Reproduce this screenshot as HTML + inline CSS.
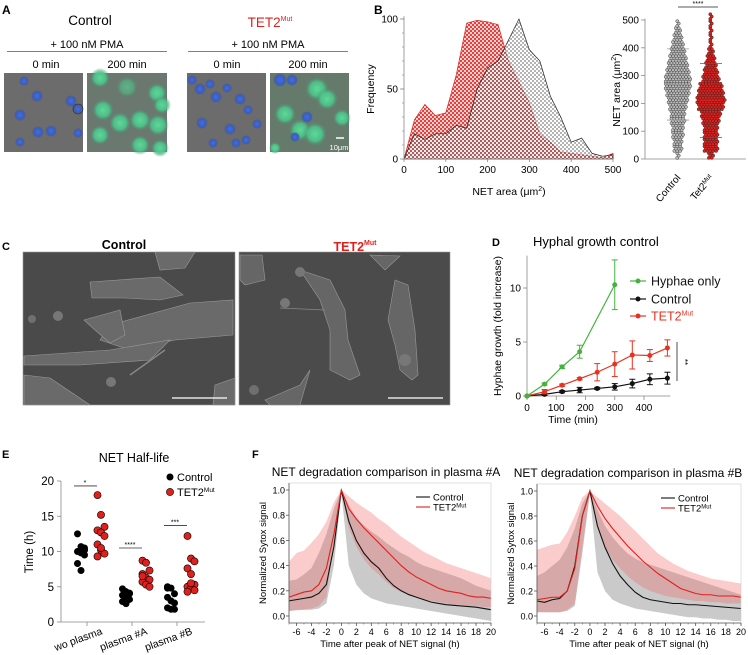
<!DOCTYPE html>
<html><head><meta charset="utf-8"><style>
body{margin:0;background:#fff}
svg{display:block;font-family:"Liberation Sans",Arial,sans-serif}
</style></head><body>
<svg id="fig" width="748" height="655" viewBox="0 0 748 655" xmlns="http://www.w3.org/2000/svg">
<defs>
<pattern id="chkGray" width="4" height="4" patternUnits="userSpaceOnUse"><rect width="4" height="4" fill="#fff"/><rect width="2" height="2" fill="#777"/><rect x="2" y="2" width="2" height="2" fill="#777"/></pattern>
<pattern id="chkRed" width="4" height="4" patternUnits="userSpaceOnUse"><rect width="4" height="4" fill="#f6c8c8"/><rect width="2" height="2" fill="#e0201c"/><rect x="2" y="2" width="2" height="2" fill="#e0201c"/></pattern>
<radialGradient id="gBlue"><stop offset="0" stop-color="#3f6fe0"/><stop offset="0.7" stop-color="#3a5cc0"/><stop offset="1" stop-color="#555" stop-opacity="0"/></radialGradient>
<radialGradient id="gGreen"><stop offset="0" stop-color="#5fd89a"/><stop offset="0.6" stop-color="#4cc48a" stop-opacity="0.9"/><stop offset="1" stop-color="#4a8f70" stop-opacity="0"/></radialGradient>
</defs>

<!-- Panel A -->
<g>
<text x="2" y="14" font-size="12" font-weight="bold">A</text>
<text x="90" y="25" font-size="13.5" text-anchor="middle">Control</text>
<text x="270" y="27" font-size="13.5" text-anchor="middle" fill="#e0201c">TET2<tspan font-size="7" dy="-6">Mut</tspan></text>
<text x="87" y="48" font-size="11" text-anchor="middle">+ 100 nM PMA</text>
<text x="268" y="48" font-size="11" text-anchor="middle">+ 100 nM PMA</text>
<line x1="7" y1="51.5" x2="167" y2="51.5" stroke="#555" stroke-width="0.8"/>
<line x1="188" y1="51.5" x2="348" y2="51.5" stroke="#555" stroke-width="0.8"/>
<text x="46" y="68" font-size="11" text-anchor="middle">0 min</text>
<text x="127" y="68" font-size="11" text-anchor="middle">200 min</text>
<text x="227" y="68" font-size="11" text-anchor="middle">0 min</text>
<text x="308" y="68" font-size="11" text-anchor="middle">200 min</text>
<g>
<rect x="4" y="73" width="79" height="79" fill="#6c6c6c"/>
<circle cx="24" cy="81" r="5" fill="url(#gBlue)"/><circle cx="37" cy="96" r="6" fill="url(#gBlue)"/><circle cx="20" cy="115" r="6" fill="url(#gBlue)"/><circle cx="71" cy="101" r="6" fill="url(#gBlue)"/><circle cx="78" cy="109" r="5" fill="url(#gBlue)" stroke="#222" stroke-width="0.6"/><circle cx="38" cy="132" r="6" fill="url(#gBlue)"/><circle cx="51" cy="131" r="6" fill="url(#gBlue)"/><circle cx="20" cy="142" r="5" fill="url(#gBlue)"/><circle cx="78" cy="133" r="5" fill="url(#gBlue)"/>
</g>
<g>
<rect x="87" y="73" width="80" height="79" fill="#6a786f"/>
<circle cx="100" cy="78" r="10" fill="url(#gGreen)"/><circle cx="127" cy="87" r="11" fill="url(#gGreen)" opacity="0.6"/><circle cx="157" cy="93" r="10" fill="url(#gGreen)"/><circle cx="162" cy="105" r="9" fill="url(#gGreen)"/><circle cx="103" cy="110" r="11" fill="url(#gGreen)"/><circle cx="120" cy="123" r="11" fill="url(#gGreen)"/><circle cx="140" cy="120" r="11" fill="url(#gGreen)"/><circle cx="158" cy="125" r="11" fill="url(#gGreen)"/><circle cx="100" cy="135" r="10" fill="url(#gGreen)"/><circle cx="140" cy="145" r="10" fill="url(#gGreen)"/><circle cx="160" cy="148" r="9" fill="url(#gGreen)"/>
</g>
<g>
<rect x="187" y="73" width="79" height="79" fill="#6c6c6c"/>
<circle cx="192" cy="80" r="5" fill="url(#gBlue)"/><circle cx="200" cy="89" r="6" fill="url(#gBlue)"/><circle cx="210" cy="84" r="5" fill="url(#gBlue)"/><circle cx="227" cy="88" r="5" fill="url(#gBlue)"/><circle cx="240" cy="99" r="6" fill="url(#gBlue)"/><circle cx="216" cy="97" r="6" fill="url(#gBlue)"/><circle cx="248" cy="110" r="5" fill="url(#gBlue)"/><circle cx="202" cy="123" r="6" fill="url(#gBlue)"/><circle cx="230" cy="129" r="6" fill="url(#gBlue)"/><circle cx="257" cy="124" r="5" fill="url(#gBlue)"/><circle cx="213" cy="143" r="5" fill="url(#gBlue)"/><circle cx="236" cy="143" r="5" fill="url(#gBlue)"/><circle cx="246" cy="140" r="5" fill="url(#gBlue)"/>
</g>
<g>
<rect x="270" y="73" width="79" height="79" fill="#667a6c"/>
<circle cx="280" cy="80" r="7" fill="url(#gBlue)"/><circle cx="292" cy="80" r="6" fill="url(#gBlue)"/><circle cx="317" cy="89" r="12" fill="url(#gGreen)"/><circle cx="327" cy="99" r="11" fill="url(#gGreen)"/><circle cx="285" cy="114" r="11" fill="url(#gGreen)"/><circle cx="300" cy="130" r="11" fill="url(#gGreen)"/><circle cx="315" cy="134" r="12" fill="url(#gGreen)"/><circle cx="342" cy="118" r="9" fill="url(#gGreen)"/><circle cx="307" cy="117" r="6" fill="url(#gBlue)"/><circle cx="295" cy="137" r="5" fill="url(#gBlue)"/><circle cx="275" cy="148" r="6" fill="url(#gGreen)"/>
<line x1="336" y1="138" x2="344" y2="138" stroke="#fff" stroke-width="1.5"/>
<text x="339" y="150" font-size="7.5" fill="#fff" text-anchor="middle">10μm</text>
</g>
</g>

<!-- Panel B -->
<g id="panelB">
<text x="374" y="14" font-size="12" font-weight="bold">B</text>
</g>

<!-- Panel C -->
<g>
<text x="2" y="250" font-size="11" font-weight="bold">C</text>
<text x="124" y="249" font-size="12.5" font-weight="bold" text-anchor="middle">Control</text>
<text x="355" y="251" font-size="12.5" font-weight="bold" text-anchor="middle" fill="#e0201c">TET2<tspan font-size="7" dy="-6">Mut</tspan></text>
<g>
<rect x="23" y="252" width="212" height="153" fill="#4a4a4a" stroke="#999" stroke-width="0.6"/>
<g fill="#6a6a6a" stroke="#9a9a9a" stroke-width="0.6">
<path d="M90 282 L160 277 L183 295 L160 300 L125 298 L92 298 Z"/>
<path d="M110 325 L190 303 L233 300 L233 335 L175 340 L130 350 L100 340 Z"/>
<path d="M24 356 L110 350 L170 340 L150 360 L80 365 L24 365 Z"/>
<path d="M24 375 L50 378 L90 405 L24 405 Z"/>
<path d="M84 320 L120 310 L125 335 L110 343 L95 330 Z"/>
<path d="M155 252 L195 252 L185 268 L160 270 Z"/>
<path d="M215 385 L235 378 L235 405 L213 405 Z"/>
</g>
<circle cx="58" cy="316" r="5" fill="#777"/><circle cx="32" cy="319" r="4" fill="#6f6f6f"/><circle cx="111" cy="382" r="5" fill="#777"/>
<line x1="130" y1="375" x2="165" y2="350" stroke="#888" stroke-width="1.5"/>
<line x1="172" y1="398" x2="227" y2="398" stroke="#fff" stroke-width="1.2"/>
</g>
<g>
<rect x="239" y="252" width="211" height="153" fill="#4b4b4b" stroke="#999" stroke-width="0.6"/>
<g fill="#666" stroke="#999" stroke-width="0.6">
<path d="M240 255 L262 255 L265 280 L245 285 L240 280 Z"/>
<path d="M300 270 L330 280 L345 310 L348 340 L360 375 L350 380 L330 370 L330 330 L320 300 Z"/>
<path d="M395 280 L408 285 L415 330 L418 375 L412 380 L400 370 L395 345 L388 320 Z"/>
<path d="M265 400 L300 385 L310 370 L300 405 L270 405 Z"/>
<path d="M370 255 L400 256 L385 270 Z"/>
</g>
<circle cx="285" cy="303" r="5" fill="#777"/><circle cx="254" cy="390" r="5" fill="#6f6f6f"/><circle cx="300" cy="272" r="5" fill="#777"/><circle cx="405" cy="360" r="6" fill="#777"/>
<line x1="280" y1="308" x2="325" y2="310" stroke="#888" stroke-width="0.8"/>
<line x1="388" y1="398" x2="443" y2="398" stroke="#fff" stroke-width="1.2"/>
</g>
</g>

<g id="panelD">
<text x="492" y="246" font-size="11" font-weight="bold">D</text>
<text x="533" y="246" font-size="13">Hyphal growth control</text>
</g>
<g id="panelE">
<text x="2" y="458" font-size="11" font-weight="bold">E</text>
<text x="134" y="462" font-size="12.5" text-anchor="middle">NET Half-life</text>
</g>
<g id="panelF">
<text x="252" y="458" font-size="11" font-weight="bold">F</text>
</g>
</svg>
<script>
const NS="http://www.w3.org/2000/svg";
function mk(parent,tag,attrs,text){const e=document.createElementNS(NS,tag);for(const k in attrs)e.setAttribute(k,attrs[k]);if(text!==undefined)e.textContent=text;parent.appendChild(e);return e;}
const gB=document.getElementById('panelB'),gD=document.getElementById('panelD'),gE=document.getElementById('panelE'),gF=document.getElementById('panelF');

// ---- Panel B data ----
const histBins=[0,25,50,75,100,125,150,175,200,225,250,275,300,325,350,375,400,425,450,475,500];
const histControl=[0,18,14,18,18,24,22,50,65,70,85,100,78,70,45,30,12,15,4,2,3];
const histTet2=[0,28,39,31,33,60,97,99,98,96,70,55,40,18,12,5,4,3,2,1,4];
const histXTicks=[0,100,200,300,400,500];
const histYTicks=[0,50,100];
const swarmBins=[0,25,50,75,100,125,150,175,200,225,250,275,300,325,350,375,400,425,450,475,500];
const swarmControl=[1,3,3,4,4,5,5,6,7,8,9,9,8,7,6,5,4,3,2,1,0];
const swarmTet2=[2,5,5,5,5,6,7,9,10,9,8,6,5,4,3,2,1,1,1,1,1];
const swarmYTicks=[0,100,200,300,400,500];
const swarmMeanCtrl=268, swarmSdCtrl=128, swarmMeanTet=210, swarmSdTet=133;

const hx=v=>404+v*209/500, hy=f=>159-f*1.4;
function areaPath(xs,ys,fx,fy){let d='M'+fx(xs[0])+' '+fy(0);xs.forEach((x,i)=>d+=' L'+fx(x)+' '+fy(ys[i]));return d+' L'+fx(xs[xs.length-1])+' '+fy(0)+' Z';}
let p=mk(gB,'path',{d:areaPath(histBins,histTet2,hx,hy),fill:'url(#chkRed)','fill-opacity':0.85,stroke:'#e0201c','stroke-width':0.7});


p=mk(gB,'path',{d:areaPath(histBins,histControl,hx,hy),fill:'url(#chkGray)','fill-opacity':0.55,stroke:'#222','stroke-width':0.7});


mk(gB,'line',{x1:404,y1:hy(0),x2:404,y2:hy(102),stroke:'#888','stroke-width':0.8});
mk(gB,'line',{x1:404,y1:hy(0),x2:hx(500),y2:hy(0),stroke:'#888','stroke-width':0.8});
for(let f=0;f<=100;f+=10)mk(gB,'line',{x1:402,y1:hy(f),x2:404,y2:hy(f),stroke:'#888','stroke-width':0.6});
histYTicks.forEach(t=>{mk(gB,'line',{x1:400,y1:hy(t),x2:404,y2:hy(t),stroke:'#888','stroke-width':0.8});mk(gB,'text',{x:398,y:hy(t)+3.5,'font-size':10,'text-anchor':'end'},t);});
histXTicks.forEach(t=>{mk(gB,'line',{x1:hx(t),y1:159,x2:hx(t),y2:162,stroke:'#888','stroke-width':0.8});mk(gB,'text',{x:hx(t),y:173,'font-size':10,'text-anchor':'middle'},t);});
let t=mk(gB,'text',{x:374,y:89,'font-size':10.5,'text-anchor':'middle',transform:'rotate(-90 374 89)'},'Frequency');


t=mk(gB,'text',{x:509,y:195,'font-size':10.5,'text-anchor':'middle'});t.innerHTML='NET area (μm<tspan font-size="7" dy="-4">2</tspan><tspan dy="4">)</tspan>';



const sy=v=>159-v*0.278;
mk(gB,'line',{x1:645,y1:sy(0),x2:645,y2:sy(505),stroke:'#888','stroke-width':0.8});
mk(gB,'line',{x1:645,y1:sy(0),x2:746,y2:sy(0),stroke:'#888','stroke-width':0.8});
swarmYTicks.forEach(v=>{mk(gB,'line',{x1:641,y1:sy(v),x2:645,y2:sy(v),stroke:'#888','stroke-width':0.8});mk(gB,'text',{x:639,y:sy(v)+3.5,'font-size':10,'text-anchor':'end'},v);});
t=mk(gB,'text',{x:620,y:90,'font-size':10.5,'text-anchor':'middle',transform:'rotate(-90 620 90)'});t.innerHTML='NET area (μm<tspan font-size="7" dy="-4">2</tspan><tspan dy="4">)</tspan>';


function swarm(cx,counts,fill,stroke,name){const g=mk(gB,'g',{});


swarmBins.forEach((b,i)=>{const n=counts[i];for(let r=0;r<3;r++){const v=b+r*8.3+4;for(let k=0;k<n;k++){const off=(k-(n-1)/2)*2.9+(r%2?0.7:-0.7);mk(g,'circle',{cx:cx+off,cy:sy(v),r:1.6,fill:fill,stroke:stroke,'stroke-width':0.4});}}});}
swarm(678,swarmControl,'#bbb','#222','swarm-control');
swarm(711,swarmTet2,'#e0201c','#222','swarm-tet2');
[[678,swarmMeanCtrl,swarmSdCtrl],[711,swarmMeanTet,swarmSdTet]].forEach(([cx,m,s],i)=>{const c=i?'#e0201c':'#999';[m-s,m,m+s].forEach(v=>mk(gB,'line',{x1:cx-11,y1:sy(v),x2:cx+11,y2:sy(v),stroke:c,'stroke-width':0.8}));});
mk(gB,'line',{x1:678,y1:7,x2:718,y2:7,stroke:'#222','stroke-width':0.8});
mk(gB,'text',{x:698,y:6,'font-size':7,'text-anchor':'middle'},'****');
t=mk(gB,'text',{x:681,y:178,'font-size':10,'text-anchor':'end',transform:'rotate(-50 681 178)'},'Control');


t=mk(gB,'text',{x:714,y:178,'font-size':10,'text-anchor':'end',transform:'rotate(-50 714 178)'});t.innerHTML='Tet2<tspan font-size="6.5" dy="-3">Mut</tspan>';



// ---- Panel D data ----
const dTimesHyphae=[0,60,120,180,300];
const dHyphae=[0,1.1,2.7,4.1,10.3];
const dHyphaeErr=[0,0.1,0.15,0.6,2.3];
const dTimes=[0,60,120,180,240,300,360,420,480];
const dControl=[0,0.15,0.4,0.55,0.7,0.85,1.15,1.55,1.65];
const dControlErr=[0,0.1,0.1,0.25,0.1,0.3,0.4,0.5,0.55];
const dTet2=[0,0.4,1.0,1.6,2.2,2.95,3.8,3.75,4.45];
const dTet2Err=[0,0.2,0.1,0.1,0.8,1.15,1.3,0.55,0.75];
const dXTicks=[0,100,200,300,400];
const dYTicks=[0,5,10];
const dx=v=>527+v*0.2925, dy=v=>396-v*10.8;
mk(gD,'line',{x1:527,y1:dy(0),x2:527,y2:dy(13),stroke:'#888','stroke-width':0.8});
mk(gD,'line',{x1:527,y1:dy(0),x2:dx(490),y2:dy(0),stroke:'#888','stroke-width':0.8});
dYTicks.forEach(v=>{mk(gD,'line',{x1:523,y1:dy(v),x2:527,y2:dy(v),stroke:'#888','stroke-width':0.8});mk(gD,'text',{x:521,y:dy(v)+3.5,'font-size':10,'text-anchor':'end'},v);});
dXTicks.forEach(v=>{mk(gD,'line',{x1:dx(v),y1:396,x2:dx(v),y2:400,stroke:'#888','stroke-width':0.8});mk(gD,'text',{x:dx(v),y:411,'font-size':10,'text-anchor':'middle'},v);});
mk(gD,'text',{x:573,y:423,'font-size':10.5,'text-anchor':'middle'},'Time (min)');
mk(gD,'text',{x:501,y:326,'font-size':10.5,'text-anchor':'middle',transform:'rotate(-90 501 326)'},'Hyphae growth (fold increase)');
function series(g,xs,ys,es,fx,fy,col,name){const sg=mk(g,'g',{});


mk(sg,'polyline',{points:xs.map((x,i)=>fx(x)+','+fy(ys[i])).join(' '),fill:'none',stroke:col,'stroke-width':1.2});
xs.forEach((x,i)=>{if(es[i]>0.05){mk(sg,'line',{x1:fx(x),y1:fy(ys[i]-es[i]),x2:fx(x),y2:fy(ys[i]+es[i]),stroke:col,'stroke-width':1});[ys[i]-es[i],ys[i]+es[i]].forEach(v=>mk(sg,'line',{x1:fx(x)-3,y1:fy(v),x2:fx(x)+3,y2:fy(v),stroke:col,'stroke-width':1}));}
mk(sg,'circle',{cx:fx(x),cy:fy(ys[i]),r:2.5,fill:col});});}
series(gD,dTimes,dControl,dControlErr,dx,dy,'#111','series-control');
series(gD,dTimes,dTet2,dTet2Err,dx,dy,'#e8321f','series-tet2');
series(gD,dTimesHyphae,dHyphae,dHyphaeErr,dx,dy,'#44b33d','series-hyphae-only');
[['Hyphae only','#44b33d',281],['Control','#111',299],['TET2','#e8321f',316]].forEach(([lab,col,y])=>{const lg=mk(gD,'g',{});


mk(lg,'line',{x1:630,y1:y,x2:646,y2:y,stroke:col,'stroke-width':1.2});mk(lg,'circle',{cx:638,cy:y,r:2.5,fill:col});
const tt=mk(lg,'text',{x:651,y:y+4.5,'font-size':12.5,fill:col==='#e8321f'?'#e8321f':'#111'});tt.innerHTML=lab==='TET2'?'TET2<tspan font-size="7" dy="-5">Mut</tspan>':lab;});
mk(gD,'line',{x1:677,y1:342,x2:677,y2:381,stroke:'#222','stroke-width':0.8});
mk(gD,'text',{x:682,y:362,'font-size':8,'text-anchor':'middle',transform:'rotate(90 682 362)'},'**');

// ---- Panel E data ----
const eGroups=['wo plasma','plasma #A','plasma #B'];
const eControl=[[12.5,10.7,10.5,10.0,9.8,9.5,8.3,7.3,10.2],[4.7,4.3,4.0,3.8,3.5,3.2,2.9,2.6,4.1],[5.0,4.8,4.0,3.5,3.0,2.7,2.0,1.8,1.8,4.8]];
const eTet2=[[18,15.2,13.5,13,12.7,12.2,11,10.2,9.7,9.3,10.5],[8.7,8.4,7.3,6.8,6.3,6.0,5.7,5.3,5.0,6.5],[12.2,9.0,8.6,7.6,6.8,5.3,5.0,4.8,4.5,4.3,5.5]];
const eSig=['*','****','***'];
const eSigY=[19.3,10.5,13.7];
const eYTicks=[0,5,10,15,20];
const ey=v=>622-v*7.05, ex=i=>87+i*45;
mk(gE,'line',{x1:61,y1:ey(0),x2:61,y2:ey(20),stroke:'#888','stroke-width':0.8});
mk(gE,'line',{x1:61,y1:ey(0),x2:205,y2:ey(0),stroke:'#888','stroke-width':0.8});
eYTicks.forEach(v=>{mk(gE,'line',{x1:57,y1:ey(v),x2:61,y2:ey(v),stroke:'#888','stroke-width':0.8});mk(gE,'text',{x:54,y:ey(v)+4,'font-size':11.5,'text-anchor':'end'},v);});
mk(gE,'text',{x:33,y:552,'font-size':11.5,'text-anchor':'middle',transform:'rotate(-90 33 552)'},'Time (h)');
eGroups.forEach((g,i)=>{mk(gE,'line',{x1:ex(i),y1:622,x2:ex(i),y2:626,stroke:'#888','stroke-width':0.8});
const tt=mk(gE,'text',{x:ex(i)+16,y:634,'font-size':10.5,'text-anchor':'end',transform:'rotate(-20 '+(ex(i)+16)+' 634)'},g);


const sg=mk(gE,'g',{});


eControl[i].forEach((v,k)=>mk(sg,'circle',{cx:ex(i)-6+((k%3)-1)*3.5,cy:ey(v),r:3.5,fill:'#000'}));
eTet2[i].forEach((v,k)=>mk(sg,'circle',{cx:ex(i)+14+((k%3)-1)*3.5,cy:ey(v),r:3.6,fill:'#e0201c',stroke:'#000','stroke-width':0.6}));
mk(gE,'line',{x1:ex(i)-13,y1:ey(eSigY[i]),x2:ex(i)+10,y2:ey(eSigY[i]),stroke:'#333','stroke-width':0.8});
mk(gE,'text',{x:ex(i)-2,y:ey(eSigY[i])-1,'font-size':7,'text-anchor':'middle'},eSig[i]);});
mk(gE,'circle',{cx:170,cy:477,r:3.5,fill:'#000'});mk(gE,'text',{x:177,y:481,'font-size':11},'Control');
mk(gE,'circle',{cx:170,cy:492,r:3.6,fill:'#e0201c',stroke:'#000','stroke-width':0.6});
let tl=mk(gE,'text',{x:177,y:496,'font-size':11});tl.innerHTML='TET2<tspan font-size="6.5" dy="-4">Mut</tspan>';

// ---- Panel F data ----
const fTimes=[-7,-6,-5,-4,-3,-2,-1,0,1,2,3,4,5,6,7,8,9,10,11,12,13,14,15,16,17,18,19,20];
const fXTicks=[-6,-4,-2,0,2,4,6,8,10,12,14,16,18,20];
const fYTicks=[0,0.2,0.4,0.6,0.8,1.0];
const fA_ctrlMean=[0.12,0.13,0.14,0.15,0.18,0.25,0.55,1.0,0.75,0.6,0.5,0.43,0.38,0.3,0.24,0.2,0.17,0.15,0.13,0.11,0.1,0.09,0.085,0.08,0.075,0.07,0.06,0.05];
const fA_ctrlLo=[0.04,0.045,0.05,0.05,0.06,0.1,0.4,0.98,0.4,0.25,0.18,0.14,0.12,0.1,0.09,0.08,0.07,0.06,0.05,0.04,0.03,0.02,0.01,0.0,-0.01,-0.02,-0.03,-0.04];
const fA_ctrlHi=[0.28,0.29,0.33,0.38,0.5,0.65,0.85,1.0,0.88,0.78,0.72,0.67,0.63,0.58,0.54,0.5,0.47,0.43,0.4,0.38,0.36,0.34,0.32,0.3,0.27,0.24,0.22,0.2];
const fA_tetMean=[0.15,0.17,0.19,0.2,0.25,0.38,0.65,1.0,0.85,0.77,0.7,0.64,0.58,0.52,0.46,0.4,0.35,0.31,0.28,0.25,0.22,0.2,0.19,0.18,0.16,0.15,0.15,0.14];
const fA_tetLo=[0.04,0.05,0.05,0.06,0.08,0.15,0.6,0.98,0.7,0.55,0.45,0.38,0.33,0.27,0.22,0.19,0.17,0.15,0.13,0.12,0.11,0.1,0.09,0.09,0.08,0.08,0.07,0.07];
const fA_tetHi=[0.43,0.5,0.52,0.58,0.65,0.75,0.9,1.0,0.95,0.9,0.86,0.82,0.77,0.73,0.68,0.63,0.59,0.55,0.51,0.48,0.45,0.42,0.4,0.38,0.36,0.34,0.32,0.3];
const fB_ctrlMean=[0.12,0.11,0.13,0.14,0.2,0.4,0.8,1.0,0.72,0.55,0.42,0.32,0.25,0.19,0.15,0.13,0.12,0.11,0.1,0.1,0.09,0.09,0.085,0.08,0.075,0.07,0.065,0.06];
const fB_ctrlLo=[0.03,0.03,0.03,0.03,0.04,0.08,0.5,0.98,0.35,0.2,0.13,0.1,0.08,0.06,0.05,0.04,0.03,0.02,0.01,0.0,-0.01,-0.01,-0.02,-0.02,-0.03,-0.03,-0.04,-0.04];
const fB_ctrlHi=[0.32,0.35,0.4,0.45,0.55,0.7,0.9,1.0,0.85,0.72,0.63,0.56,0.5,0.46,0.43,0.41,0.39,0.37,0.35,0.33,0.31,0.29,0.27,0.25,0.23,0.21,0.19,0.17];
const fB_tetMean=[0.13,0.14,0.15,0.15,0.2,0.38,0.8,1.0,0.88,0.78,0.7,0.63,0.56,0.5,0.44,0.39,0.34,0.3,0.26,0.22,0.2,0.18,0.17,0.17,0.16,0.16,0.16,0.15];
const fB_tetLo=[0.03,0.03,0.03,0.03,0.05,0.1,0.55,0.98,0.72,0.55,0.45,0.38,0.32,0.27,0.23,0.2,0.18,0.16,0.15,0.14,0.13,0.12,0.12,0.11,0.11,0.1,0.1,0.1];
const fB_tetHi=[0.53,0.55,0.57,0.58,0.67,0.8,0.95,1.0,0.95,0.9,0.85,0.8,0.74,0.68,0.62,0.56,0.5,0.46,0.42,0.39,0.36,0.34,0.32,0.3,0.29,0.28,0.27,0.26];

function fPanel(x0,x1,y0,y1,title,titleX,d,name,legX){const g=mk(gF,'g',{});


const fx=v=>x0+(v+7)*(x1-x0)/27, fy=v=>y0-v*(y0-y1);
const clip='clip'+name;const cp=mk(g,'clipPath',{id:clip});mk(cp,'rect',{x:x0,y:y1-8,width:x1-x0,height:y0-y1+15});
const band=(lo,hi,col,op)=>{let s='M'+fTimes.map((x,i)=>fx(x)+' '+fy(hi[i])).join(' L');s+=' L'+fTimes.slice().reverse().map((x,i)=>fx(x)+' '+fy(lo[fTimes.length-1-i])).join(' L')+' Z';return mk(g,'path',{d:s,fill:col,'fill-opacity':op,'clip-path':'url(#'+clip+')'});};
let b=band(d[1],d[2],'#8a8a8a',0.45);


b=band(d[4],d[5],'#ee6060',0.32);


const ln=(arr,col,nm)=>{const l=mk(g,'polyline',{points:fTimes.map((x,i)=>fx(x)+','+fy(arr[i])).join(' '),fill:'none',stroke:col,'stroke-width':1.1});

};
ln(d[0],'#111','line-control');ln(d[3],'#e0201c','line-tet2');
const top=y1-7,bot=y0+7;
mk(g,'rect',{x:x0,y:top,width:x1-x0,height:bot-top,fill:'none',stroke:'#ccc','stroke-width':0.6});
mk(g,'line',{x1:x0,y1:top,x2:x0,y2:bot,stroke:'#555','stroke-width':0.8});
mk(g,'line',{x1:x0,y1:bot,x2:x1,y2:bot,stroke:'#555','stroke-width':0.8});
fYTicks.forEach(v=>{mk(g,'line',{x1:x0-3,y1:fy(v),x2:x0,y2:fy(v),stroke:'#555','stroke-width':0.8});mk(g,'text',{x:x0-4,y:fy(v)+3.5,'font-size':9,'text-anchor':'end'},v.toFixed(1));});
fXTicks.forEach(v=>{mk(g,'line',{x1:fx(v),y1:bot,x2:fx(v),y2:bot+3,stroke:'#555','stroke-width':0.8});mk(g,'text',{x:fx(v),y:bot+12,'font-size':9,'text-anchor':'middle'},v);});
for(let v=-7;v<=20;v++)mk(g,'line',{x1:fx(v),y1:bot,x2:fx(v),y2:bot+1.5,stroke:'#555','stroke-width':0.5});
mk(g,'text',{x:(x0+x1)/2,y:bot+24,'font-size':9.5,'text-anchor':'middle'},'Time after peak of NET signal (h)');
mk(g,'text',{x:x0-23,y:(top+bot)/2,'font-size':9.5,'text-anchor':'middle',transform:'rotate(-90 '+(x0-23)+' '+((top+bot)/2)+')'},'Normalized Sytox signal');
mk(g,'text',{x:titleX,y:top-7,'font-size':12,'text-anchor':'middle'},title);
mk(g,'line',{x1:legX,y1:y1+7,x2:legX+14,y2:y1+7,stroke:'#111','stroke-width':1.1});
mk(g,'text',{x:legX+17,y:y1+10.5,'font-size':9.5},'Control');
mk(g,'line',{x1:legX,y1:y1+17,x2:legX+14,y2:y1+17,stroke:'#e0201c','stroke-width':1.1});
const tt=mk(g,'text',{x:legX+17,y:y1+20.5,'font-size':9.5});tt.innerHTML='TET2<tspan font-size="6" dy="-3">Mut</tspan>';}
fPanel(289,491,616,490,'NET degradation comparison in plasma #A',386,[fA_ctrlMean,fA_ctrlLo,fA_ctrlHi,fA_tetMean,fA_tetLo,fA_tetHi],'plot-f-plasma-a',416);
fPanel(537,741,616,491,'NET degradation comparison in plasma #B',628,[fB_ctrlMean,fB_ctrlLo,fB_ctrlHi,fB_tetMean,fB_tetLo,fB_tetHi],'plot-f-plasma-b',661);
</script>
</body></html>
